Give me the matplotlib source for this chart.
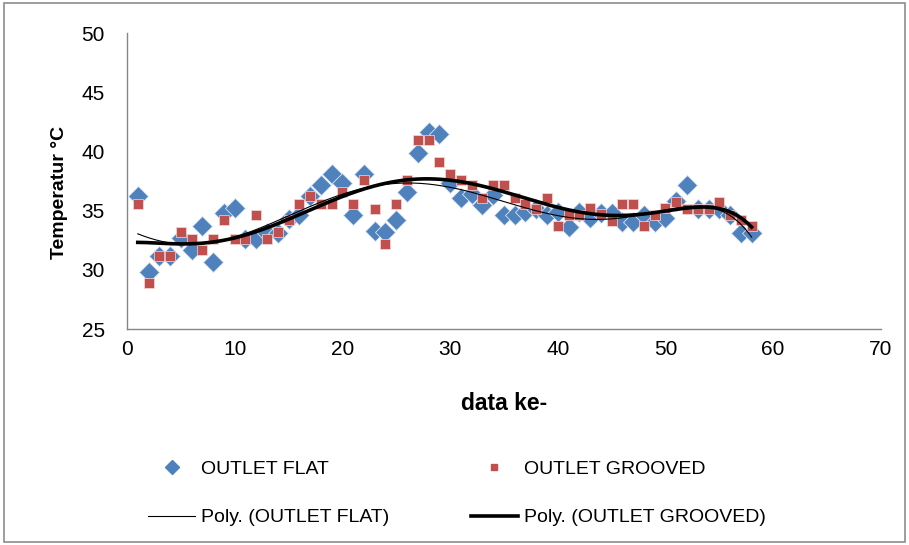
import numpy as np
import matplotlib
matplotlib.use('Agg')
import matplotlib.pyplot as plt
from matplotlib.lines import Line2D
from matplotlib.patches import Rectangle

plt.rcParams['font.family'] = ['Liberation Sans', 'DejaVu Sans']

# data
data_no = list(range(1, 59))
outlet_flat = [
    36.2, 29.8, 31.2, 31.2, 32.7, 31.7, 33.7, 30.7, 34.8, 35.2,
    32.6, 32.6, 33.1, 33.1, 34.3, 34.6, 36.2, 37.2, 38.1, 37.3,
    34.6, 38.1, 33.3, 33.2, 34.2, 36.6, 39.9, 41.6, 41.5, 37.3,
    36.1, 36.4, 35.5, 36.3, 34.6, 34.6, 34.9, 35.1, 34.6, 34.9,
    33.6, 34.9, 34.4, 34.8, 34.8, 34.0, 34.0, 34.6, 34.0, 34.4,
    35.8, 37.2, 35.1, 35.1, 35.1, 34.6, 33.1, 33.1,
]
outlet_grooved = [
    35.6, 28.9, 31.2, 31.2, 33.2, 32.6, 31.7, 32.6, 34.2, 32.6,
    32.6, 34.6, 32.6, 33.2, 34.2, 35.6, 36.2, 35.6, 35.6, 36.6,
    35.6, 37.6, 35.1, 32.2, 35.6, 37.6, 41.0, 41.0, 39.1, 38.1,
    37.6, 37.2, 36.1, 37.2, 37.2, 36.1, 35.6, 35.1, 36.1, 33.7,
    34.6, 34.6, 35.2, 34.7, 34.1, 35.6, 35.6, 33.7, 34.6, 35.2,
    35.7, 35.1, 35.1, 35.1, 35.7, 34.6, 34.2, 33.7,
]

x = np.array(data_no, dtype=float)
fit_flat = np.polyfit(x, outlet_flat, 6)
fit_grooved = np.polyfit(x, outlet_grooved, 6)
xs = np.linspace(x.min(), x.max(), 300)

fig = plt.figure(figsize=(9.09, 5.45), dpi=100)
fig.patches.append(Rectangle((0.004, 0.006), 0.992, 0.988, transform=fig.transFigure,
                             fill=False, edgecolor='#8c8c8c', linewidth=1.2))

ax = fig.add_axes([0.1397, 0.3963, 0.8293, 0.5431])

blue = '#4F81BD'
red = '#C0504D'

ax.plot(x, outlet_flat, linestyle='none', marker='D', ms=10, color=blue,
        markeredgecolor='#dbe5f1', markeredgewidth=0.6, zorder=3)
ax.plot(x, outlet_grooved, linestyle='none', marker='s', ms=7, color=red,
        markeredgecolor='#f2dcdb', markeredgewidth=0.5, zorder=4)
ax.plot(xs, np.polyval(fit_flat, xs), color='black', lw=0.8, zorder=5)
ax.plot(xs, np.polyval(fit_grooved, xs), color='black', lw=2.6, zorder=5)

ax.set_xlim(0, 70)
ax.set_ylim(25, 50)
ax.set_xticks(range(0, 71, 10))
ax.set_yticks(range(25, 51, 5))
ax.tick_params(length=0, labelsize=15, colors='#000000')
ax.tick_params(axis='y', pad=16)
ax.tick_params(axis='x', pad=8)
for s in ['top', 'right']:
    ax.spines[s].set_visible(False)
for s in ['left', 'bottom']:
    ax.spines[s].set_color('#868686')
    ax.spines[s].set_linewidth(1)

ax.set_ylabel('Temperatur °C', fontsize=14, fontweight='bold')
ax.yaxis.set_label_coords(-0.089, 0.463)
ax.set_xlabel('data ke-', fontsize=16.5, fontweight='bold')
ax.xaxis.set_label_coords(0.5, -0.25)
ax.xaxis.label.set_va('center')
ax.yaxis.label.set_va('center')

handles = [
    Line2D([], [], linestyle='none', marker='D', ms=7, color=blue),
    Line2D([], [], color='black', lw=0.8),
    Line2D([], [], linestyle='none', marker='s', ms=5, color=red),
    Line2D([], [], color='black', lw=2.6),
]
labels = ['OUTLET FLAT', 'Poly. (OUTLET FLAT)', 'OUTLET GROOVED', 'Poly. (OUTLET GROOVED)']
fig.legend(handles, labels, ncol=2, loc='center left', bbox_to_anchor=(148 / 909, 0.095),
           frameon=False, fontsize=14, handlelength=2.42, handletextpad=0.3,
           columnspacing=4.2, labelspacing=1.6, borderpad=0, borderaxespad=0)

fig.savefig('out.png', dpi=100)
